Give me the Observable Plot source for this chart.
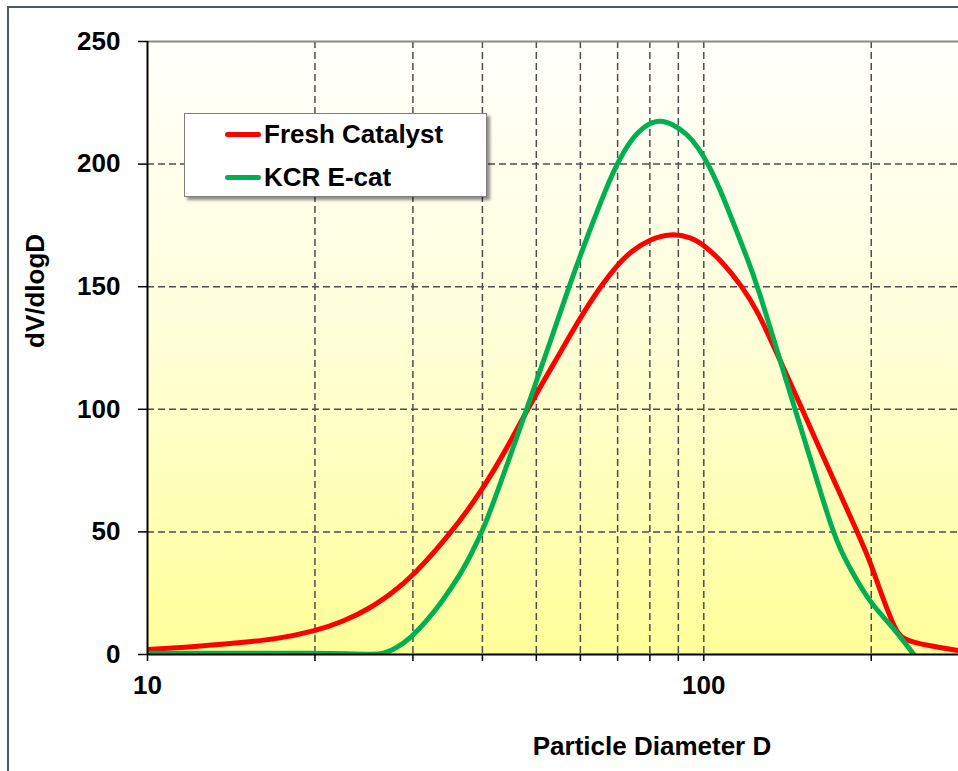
<!DOCTYPE html>
<html>
<head>
<meta charset="utf-8">
<script src="https://cdn.jsdelivr.net/npm/d3@7"></script>
<script src="https://cdn.jsdelivr.net/npm/@observablehq/plot@0.6"></script>
<style>
  html, body { margin: 0; padding: 0; background: #fff; overflow: hidden; }
  #wrap { position: relative; width: 958px; height: 771px; overflow: hidden; }
  #outer { position: absolute; left: 7px; top: 6px; width: 1200px; height: 1000px;
           border-top: 2px solid #4a5869; border-left: 2px solid #4a5869; }
  #chart { position: absolute; left: 0; top: 0; }
  #legend { position: absolute; left: 184px; top: 113px; width: 301px; height: 82px;
            background: #fff; border: 1px solid #7f7f7f;
            box-shadow: 3px 3px 3px rgba(0,0,0,0.45);
            font-family: "Liberation Sans", Arial, sans-serif; font-weight: bold; font-size: 26px; }
  .item { position: absolute; left: 40px; height: 30px; display: flex; align-items: center; white-space: nowrap; }
  .swatch { width: 36px; height: 5px; border-radius: 3px; margin-right: 3px; }
</style>
</head>
<body>
<div id="wrap">
  <div id="outer"></div>
  <div id="chart"></div>
  <div id="legend"></div>
</div>
<script>
// Particle size distributions, dV/dlogD against particle diameter D
const seriesNames = ["Fresh Catalyst", "KCR E-cat"];
const seriesColors = ["#ff0000", "#00b050"];

const freshD = [10, 12.5, 14.3, 17, 20, 22.5, 25, 27.5, 30, 35, 40, 45, 49, 55, 60, 65.4, 70, 74, 80, 87, 95, 100, 108, 117, 125, 134, 150, 160, 175, 189.2, 198.6, 206.4, 216, 223.4, 231, 238.6, 252.5, 287];
const freshV = [2.0, 3.4, 4.6, 6.2, 9.5, 13.5, 18.5, 25, 32, 49, 67, 87, 103, 122.5, 137.5, 150.5, 159, 164.5, 169.3, 171.8, 170.2, 167, 160.2, 150.3, 140, 125, 100.5, 86, 66.5, 49.5, 38.5, 27.5, 15.5, 8, 6.0, 5.0, 3.7, 1.6];

const ecatD = [10, 15, 20, 23, 25.5, 26.6, 28, 29.8, 31.7, 33.6, 36.6, 38.1, 40.3, 44, 48.2, 52.6, 57.2, 62.6, 66.2, 69.7, 74.2, 78.5, 83.1, 88, 93.4, 97.5, 101.6, 106.4, 112.6, 120, 125, 136.5, 145.2, 152.5, 160, 170.4, 176.7, 184, 198.5, 219, 238];
const ecatV = [0.5, 0.5, 0.5, 0.3, 0, 0.3, 2.5, 7, 13.5, 20.5, 33, 40.5, 51.5, 75.5, 101, 125.5, 150, 174, 188, 200, 210.5, 215.8, 218.2, 216.3, 212.3, 207, 200.5, 191, 177, 161, 150, 121.5, 101.5, 86, 70.5, 50.5, 42, 34.3, 21.3, 11.1, 0.3];

const xDomain = [10, 287];
const yDomain = [0, 250];
const xTicks = [10, 20, 30, 40, 50, 60, 70, 80, 90, 100, 200];
const xTickLabels = [10, 100];
const xGrid = [20, 30, 40, 50, 60, 70, 80, 90, 100, 200];
const yTicks = [0, 50, 100, 150, 200, 250];
const yGrid = [50, 100, 150, 200];
const xTitle = "Particle Diameter D";
const yTitle = "dV/dlogD";

const fresh = freshD.map((d, i) => ({d, v: freshV[i]}));
const ecat = ecatD.map((d, i) => ({d, v: ecatV[i]}));

const grid = {stroke: "#4d4d4d", strokeWidth: 1.5, strokeDasharray: "7,4"};

const chart = Plot.plot({
  width: 958,
  height: 771,
  marginLeft: 147,
  marginRight: 0,
  marginTop: 41,
  marginBottom: 117,
  style: {
    fontFamily: "'Liberation Sans', Arial, sans-serif",
    fontSize: "26px",
    fontWeight: "bold",
    color: "#000",
    background: "transparent",
    overflow: "visible"
  },
  x: {type: "log", domain: xDomain},
  y: {domain: yDomain},
  marks: [
    Plot.frame({fill: "url(#plotBg)", stroke: null}),
    Plot.ruleX(xGrid, grid),
    Plot.ruleY(yGrid, grid),
    Plot.ruleY([yDomain[1]], {stroke: "#8a8a8a", strokeWidth: 2}),
    Plot.line(fresh, {x: "d", y: "v", stroke: seriesColors[0], strokeWidth: 5, curve: "basis", clip: true}),
    Plot.line(ecat, {x: "d", y: "v", stroke: seriesColors[1], strokeWidth: 5, curve: "basis", clip: true}),
    Plot.ruleX([xDomain[0]], {stroke: "#000", strokeWidth: 2}),
    Plot.ruleY([0], {stroke: "#000", strokeWidth: 2}),
    Plot.axisY({ticks: yTicks, tickSize: 9, tickPadding: 18, strokeWidth: 1.5, label: null, fontSize: 26, fontWeight: "bold"}),
    Plot.axisX({ticks: xTicks, tickSize: 7, tickPadding: 14, strokeWidth: 1.5, label: null, fontSize: 26, fontWeight: "bold",
                tickFormat: d => xTickLabels.includes(d) ? String(d) : ""}),
    Plot.text([yTitle], {frameAnchor: "left", rotate: -90, dx: -112, fontSize: 26, fontWeight: "bold"}),
    Plot.text([xTitle], {frameAnchor: "bottom", dx: 99, dy: 100, fontSize: 26, fontWeight: "bold"})
  ]
});

// vertical white-to-yellow fill of the plotting area
d3.select(chart).insert("defs", ":first-child").html(
  `<linearGradient id="plotBg" x1="0" y1="0" x2="0" y2="1">
     <stop offset="0%" stop-color="#fffffb"/>
     <stop offset="45%" stop-color="#ffffdc"/>
     <stop offset="100%" stop-color="#ffff99"/>
   </linearGradient>`
);

document.getElementById("chart").appendChild(chart);

// legend
const legend = d3.select("#legend");
seriesNames.forEach((name, i) => {
  const item = legend.append("div").attr("class", "item").style("top", (5 + i * 43) + "px");
  item.append("div").attr("class", "swatch").style("background", seriesColors[i]);
  item.append("span").text(name);
});
</script>
</body>
</html>
